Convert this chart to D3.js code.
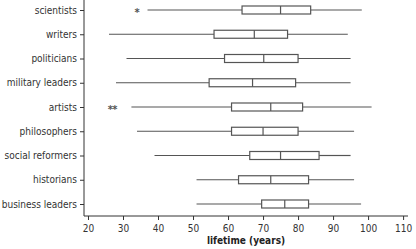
<!DOCTYPE html>
<html><head><meta charset="utf-8">
<script src="https://cdn.jsdelivr.net/npm/d3@7"></script>
<style>body{margin:0;background:#fff}svg{display:block}</style>
</head><body>
<script>
const categories = ["scientists","writers","politicians","military leaders","artists","philosophers","social reformers","historians","business leaders"];
const whiskerLow  = [37, 26, 31, 28, 32.4, 34, 39, 51, 51];
const q1          = [64, 56, 59, 54.6, 61, 61, 66.2, 63, 69.6];
const median      = [75, 67.5, 70.2, 67, 72.2, 70, 75, 72.2, 76.2];
const q3          = [83.6, 77, 80, 79.3, 81.3, 80, 86, 83, 83];
const whiskerHigh = [98.2, 94.2, 95, 95, 101, 96, 95, 96, 98];
const outliers    = [[34], [], [], [], [26.4, 27.7], [], [], [], []];
const xTicks = [20,30,40,50,60,70,80,90,100,110];
const xTitle = "lifetime (years)";

const W = 416, H = 249;
const mLeft = 84, mRight = 408, mTop = 0, mBottom = 216;
const svg = d3.select("body").append("svg").attr("width", W).attr("height", H);
const x = d3.scaleLinear().domain([18.86, 111.4]).range([mLeft, mRight]);
const y = d3.scalePoint().domain(categories).range([10, 204]);
const font = "'DejaVu Sans Condensed', 'DejaVu Sans', sans-serif";
const stroke = "#555";

const g = svg.append("g");
categories.forEach((c, i) => {
  const cy = y(c);
  g.append("line").attr("x1", x(whiskerLow[i])).attr("x2", x(q1[i])).attr("y1", cy).attr("y2", cy).attr("stroke", stroke).attr("stroke-width", 1.2);
  g.append("line").attr("x1", x(q3[i])).attr("x2", x(whiskerHigh[i])).attr("y1", cy).attr("y2", cy).attr("stroke", stroke).attr("stroke-width", 1.2);
  g.append("rect").attr("x", x(q1[i])).attr("y", cy - 4).attr("width", x(q3[i]) - x(q1[i])).attr("height", 8)
    .attr("fill", "#fff").attr("stroke", stroke).attr("stroke-width", 1.2);
  g.append("line").attr("x1", x(median[i])).attr("x2", x(median[i])).attr("y1", cy - 4).attr("y2", cy + 4).attr("stroke", stroke).attr("stroke-width", 1.2);
  outliers[i].forEach(v => {
    g.append("text").attr("x", x(v)).attr("y", cy + 6).attr("text-anchor", "middle")
      .attr("font-family", font).attr("font-size", 11).attr("font-weight", "bold").attr("fill", "#555").text("*");
  });
});

const xAxis = svg.append("g").attr("transform", `translate(0,${mBottom})`)
  .call(d3.axisBottom(x).tickValues(xTicks).tickSize(4).tickSizeOuter(0));
const yAxis = svg.append("g").attr("transform", `translate(${mLeft},0)`)
  .call(d3.axisLeft(y).tickSize(4).tickSizeOuter(0));
[xAxis, yAxis].forEach(a => {
  a.select(".domain").attr("stroke", "#333");
  a.selectAll(".tick line").attr("stroke", "#333");
  a.selectAll("text").attr("font-family", font).attr("font-stretch", "condensed").attr("font-size", 10).attr("fill", "#333");
});
yAxis.select(".domain").attr("d", `M0,${mTop}V${mBottom}`);
xAxis.select(".domain").attr("d", `M${mLeft},0H${mRight}`);
xAxis.selectAll("text").attr("dy", "0.85em");

svg.append("text").attr("x", (mLeft + mRight) / 2).attr("y", 244).attr("text-anchor", "middle")
  .attr("font-family", font).attr("font-stretch", "condensed").attr("font-size", 10).attr("font-weight", "bold").attr("fill", "#222").text(xTitle);
</script>
</body></html>
